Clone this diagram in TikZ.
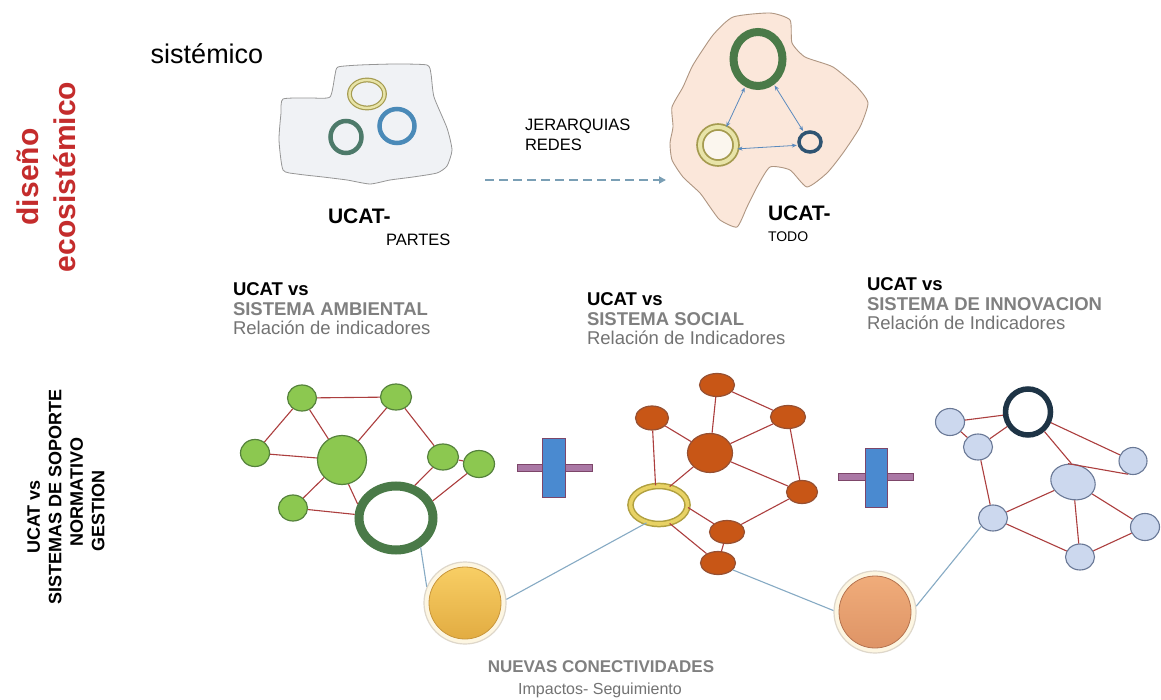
\documentclass[tikz,border=0pt]{standalone}
\usepackage{fontspec}
\setmainfont{Liberation Sans}
\usetikzlibrary{shapes.geometric,arrows.meta}
\definecolor{redc}{RGB}{196,44,44}
\definecolor{hgray}{RGB}{128,128,128}
\definecolor{hgray2}{RGB}{115,115,115}
\definecolor{blobAfill}{RGB}{240,242,245}
\definecolor{blobAdraw}{RGB}{150,150,150}
\definecolor{blobBfill}{RGB}{251,231,218}
\definecolor{blobBdraw}{RGB}{175,150,130}
\definecolor{olivec}{RGB}{165,155,80}
\definecolor{palec}{RGB}{232,228,168}
\definecolor{tealg}{RGB}{77,122,106}
\definecolor{steelb}{RGB}{74,138,184}
\definecolor{darkg}{RGB}{74,122,72}
\definecolor{navyc}{RGB}{47,84,114}
\definecolor{arrowb}{RGB}{90,138,190}
\definecolor{dashc}{RGB}{122,159,181}
\definecolor{gfill}{RGB}{140,200,80}
\definecolor{gdraw}{RGB}{85,130,60}
\definecolor{ofill}{RGB}{200,86,22}
\definecolor{odraw}{RGB}{150,80,50}
\definecolor{bfill}{RGB}{204,216,238}
\definecolor{bdraw}{RGB}{105,120,150}
\definecolor{edgec}{RGB}{172,62,62}
\definecolor{connc}{RGB}{134,170,196}
\definecolor{ringnavy}{RGB}{30,52,70}
\definecolor{ringyel}{RGB}{176,160,64}
\definecolor{ringyelband}{RGB}{232,210,100}
\definecolor{plush}{RGB}{170,120,165}
\definecolor{plusv}{RGB}{74,138,208}
\definecolor{plusd}{RGB}{125,70,105}
\definecolor{halofill}{RGB}{253,246,226}
\definecolor{halodraw}{RGB}{222,215,202}
\definecolor{yinner}{RGB}{251,246,238}
\definecolor{ytop}{RGB}{248,206,100}
\definecolor{ybot}{RGB}{226,172,66}
\definecolor{yrim}{RGB}{200,150,60}
\definecolor{otop}{RGB}{240,172,122}
\definecolor{obot}{RGB}{222,148,102}
\definecolor{orim}{RGB}{180,115,80}
\tikzset{
  txt/.style={inner sep=0pt, outer sep=0pt},
  hdr/.style={txt, align=left, anchor=west, font=\fontsize{18.5}{19.5}\selectfont},
  gnode/.style={ellipse, draw=gdraw, fill=gfill, line width=1.2pt, inner sep=0pt},
  onode/.style={ellipse, draw=odraw, fill=ofill, line width=1.2pt, inner sep=0pt},
  bnode/.style={ellipse, draw=bdraw, fill=bfill, line width=1.1pt, inner sep=0pt},
  netedge/.style={draw=edgec, line width=1.1pt},
  conn/.style={draw=connc, line width=1.1pt},
  ringnode/.style={ellipse, inner sep=0pt},
  tipsm/.style={arrowb, line width=0.8pt, {Stealth[length=5pt,width=4pt]}-{Stealth[length=5pt,width=4pt]}, shorten <=1pt, shorten >=1pt},
  dasharrow/.style={draw=dashc, line width=1.8pt, dash pattern=on 9pt off 5pt, -{Triangle[length=7pt,width=7pt]}},
  halo/.style={circle, minimum size=82pt, inner sep=0pt, fill=halofill, draw=halodraw, line width=1.2pt},
  plusbar/.style={draw=plusd, line width=1pt}
}
\begin{document}
\begin{tikzpicture}[x=1pt,y=-1pt]
\useasboundingbox (0,0) rectangle (1161,700);
\fill[white] (0,0) rectangle (1161,700);

% ---------- titles ----------
\node[txt, rotate=90, align=center, text=redc, font=\bfseries\fontsize{30}{37}\selectfont] (diseno) at (46,177) {diseño\\ecosistémico};
\node[txt, font=\fontsize{27}{30}\selectfont] (sistemico) at (207,54) {sistémico};
\node[txt, rotate=90, align=center, font=\bfseries\fontsize{18}{21.5}\selectfont] (soporte) at (66,500)
  {UCAT vs\hspace*{34pt}\\\hspace*{6pt}SISTEMAS DE SOPORTE\\\hspace*{16pt}NORMATIVO\\GESTION\hspace*{22pt}};

% ---------- blob 1 : partes ----------
\draw[fill=blobAfill, draw=blobAdraw, line width=0.8pt] plot[smooth cycle, tension=0.35] coordinates {
 (283,99) (310,98) (330,97) (335,75) (338,67) (360,65) (395,64) (427,65) (431,74) (434,97)
 (447,128) (452,150) (447,166) (437,173) (413,177) (390,180) (370,184) (347,180) (323,177)
 (297,174) (283,170) (279,140) (281,113)};
\node[ringnode, minimum width=35pt, minimum height=28pt, draw=olivec, double=palec, double distance=2.4pt, line width=1.2pt] (pyel) at (367,94) {};
\node[ringnode, minimum width=31pt, minimum height=32pt, draw=tealg, line width=4.5pt] (pteal) at (346,137) {};
\node[ringnode, minimum width=35pt, minimum height=34pt, draw=steelb, line width=4.5pt] (pblue) at (397,126) {};
\node[txt, anchor=west, font=\bfseries\fontsize{21}{24}\selectfont] (ucatA) at (328,216) {UCAT-};
\node[txt, anchor=west, font=\fontsize{16.5}{19}\selectfont] (partes) at (386,240) {PARTES};

% ---------- middle arrow ----------
\node[txt, anchor=west, align=left, font=\fontsize{16.5}{20}\selectfont] (jer) at (525,135) {JERARQUIAS\\REDES};
\coordinate (dstart) at (485,180);
\coordinate (dend) at (666,180);
\draw[dasharrow] (dstart) -- (dend);

% ---------- blob 2 : todo ----------
\draw[fill=blobBfill, draw=blobBdraw, line width=0.9pt] plot[smooth cycle, tension=0.35] coordinates {
 (693,65) (713,35) (733,17) (770,13) (790,20) (792,43) (805,57) (833,67) (857,87) (868,103)
 (860,127) (843,153) (827,173) (807,187) (790,170) (770,167) (757,187) (747,207) (737,227)
 (720,220) (710,207) (700,193) (683,177) (672,160) (670,143) (673,127) (672,107) (683,87)};
\node[ringnode, minimum width=49pt, minimum height=54pt, draw=darkg, line width=8pt] (tgreen) at (758,59) {};
\node[ringnode, minimum width=36pt, minimum height=36pt, draw=olivec, double=palec, double distance=4pt, line width=1.8pt, fill=yinner] (tyel) at (718,145) {};
\node[ringnode, minimum width=22pt, minimum height=20pt, draw=navyc, line width=3.5pt] (tnavy) at (810,142) {};
\draw[tipsm] (tgreen) -- (tyel);
\draw[tipsm] (tgreen) -- (tnavy);
\draw[tipsm] (tyel.-12) -- (tnavy.195);
\node[txt, anchor=west, font=\bfseries\fontsize{21}{24}\selectfont] (ucatB) at (768,213) {UCAT-};
\node[txt, anchor=west, font=\fontsize{14}{16}\selectfont] (todo) at (768,237) {TODO};

% ---------- headers ----------
\node[hdr] (hA) at (233,309) {\textbf{UCAT vs}\\{\color{hgray}\bfseries SISTEMA AMBIENTAL}\\{\color{hgray2}Relación de indicadores}};
\node[hdr] (hB) at (587,319) {\textbf{UCAT vs}\\{\color{hgray}\bfseries SISTEMA SOCIAL}\\{\color{hgray2}Relación de Indicadores}};
\node[hdr] (hC) at (867,304) {\textbf{UCAT vs}\\{\color{hgray}\bfseries SISTEMA DE INNOVACION}\\{\color{hgray2}Relación de Indicadores}};

% ---------- green network ----------
\node[gnode, minimum width=29pt, minimum height=26pt] (g1) at (302,398) {};
\node[gnode, minimum width=31pt, minimum height=26pt] (g2) at (396,397) {};
\node[gnode, minimum width=29pt, minimum height=27pt] (g3) at (255,453) {};
\node[gnode, minimum width=49pt, minimum height=49pt] (g4) at (342,460) {};
\node[gnode, minimum width=31pt, minimum height=26pt] (g5) at (443,457) {};
\node[gnode, minimum width=31pt, minimum height=27pt] (g6) at (479,464) {};
\node[gnode, minimum width=29pt, minimum height=26pt] (g7) at (293,508) {};
\node[ringnode, minimum width=74pt, minimum height=64pt, draw=darkg, line width=9pt, fill=white] (gring) at (396,518) {};
\draw[netedge] (g1) -- (g2);
\draw[netedge] (g1) -- (g3);
\draw[netedge] (g1) -- (g4);
\draw[netedge] (g2) -- (g4);
\draw[netedge] (g2) -- (g5);
\draw[netedge] (g3) -- (g4);
\draw[netedge] (g5) -- (g6);
\draw[netedge] (g4) -- (g7);
\draw[netedge] (g4.-75) -- (gring.160);
\draw[netedge] (g7) -- (gring.175);
\draw[netedge] (g5) -- (gring.60);
\draw[netedge] (g6) -- (gring.25);

% ---------- plus signs ----------
\draw[plusbar, fill=plush] (517,464) rectangle (592,471);
\draw[plusbar, fill=plusv] (542,438) rectangle (565,497);
\draw[plusbar, fill=plush] (838,473) rectangle (913,480);
\draw[plusbar, fill=plusv] (865,448) rectangle (887,507);

% ---------- orange network ----------
\node[onode, minimum width=35pt, minimum height=23pt] (o1) at (717,385) {};
\node[onode, minimum width=33pt, minimum height=24pt] (o2) at (652,418) {};
\node[onode, minimum width=35pt, minimum height=23pt] (o3) at (788,417) {};
\node[onode, minimum width=45pt, minimum height=39pt] (o4) at (710,453) {};
\node[onode, minimum width=31pt, minimum height=23pt] (o5) at (802,492) {};
\node[onode, minimum width=35pt, minimum height=23pt] (o6) at (727,532) {};
\node[onode, minimum width=35pt, minimum height=23pt] (o7) at (718,563) {};
\node[ringnode, minimum width=57pt, minimum height=38pt, draw=ringyel, double=ringyelband, double distance=3.6pt, line width=1.5pt, fill=white] (yring) at (659,505) {};
\draw[netedge] (o1) -- (o3);
\draw[netedge] (o1) -- (o4);
\draw[netedge] (o2) -- (o4);
\draw[netedge] (o2) -- (yring.100);
\draw[netedge] (o3) -- (o4);
\draw[netedge] (o3) -- (o5);
\draw[netedge] (o4) -- (o5);
\draw[netedge] (o4) -- (yring.60);
\draw[netedge] (yring.-5) -- (o6);
\draw[netedge] (o5) -- (o6);
\draw[netedge] (o6) -- (o7);
\draw[netedge] (yring.-60) -- (o7);

% ---------- blue network ----------
\node[bnode, minimum width=29pt, minimum height=27pt] (b1) at (950,422) {};
\node[ringnode, minimum width=45pt, minimum height=46pt, draw=ringnavy, line width=5.5pt, fill=white] (bring) at (1028,412) {};
\node[bnode, minimum width=29pt, minimum height=26pt] (b2) at (978,447) {};
\node[bnode, minimum width=28pt, minimum height=27pt] (b3) at (1133,461) {};
\node[bnode, minimum width=45pt, minimum height=35pt, rotate=-15] (b4) at (1073,482) {};
\node[bnode, minimum width=29pt, minimum height=26pt] (b5) at (993,518) {};
\node[bnode, minimum width=29pt, minimum height=27pt] (b6) at (1145,527) {};
\node[bnode, minimum width=29pt, minimum height=26pt] (b7) at (1080,557) {};
\draw[netedge] (b1) -- (bring);
\draw[netedge] (b1) -- (b2);
\draw[netedge] (b2) -- (bring);
\draw[netedge] (bring) -- (b3);
\draw[netedge] (bring) -- (b4.110);
\draw[netedge] (b4.120) -- (b3.250);
\draw[netedge] (b2) -- (b5);
\draw[netedge] (b5) -- (b4);
\draw[netedge] (b5) -- (b7);
\draw[netedge] (b4) -- (b7);
\draw[netedge] (b4) -- (b6);
\draw[netedge] (b7) -- (b6);

% ---------- new connectivities ----------
\node[halo] (ycirc) at (465,603) {};
\shade[top color=ytop, bottom color=ybot, draw=yrim, line width=0.8pt] (ycirc.center) circle[radius=36pt];
\node[halo] (ocirc) at (875,612) {};
\shade[top color=otop, bottom color=obot, draw=orim, line width=0.8pt] (ocirc.center) circle[radius=36pt];
\draw[conn] (gring.-50) -- (ycirc.157);
\draw[conn] (ycirc.5) -- (yring.235);
\draw[conn] (o7.-25) -- (ocirc.178);
\draw[conn] (ocirc.8) -- (b5.215);

\node[txt, anchor=north, text=hgray, font=\bfseries\fontsize{17}{20}\selectfont] (nuevas) at (601,661) {NUEVAS CONECTIVIDADES};
\node[txt, anchor=north, text=hgray2, font=\fontsize{16}{19}\selectfont] (impactos) at (600,683) {Impactos- Seguimiento};
\end{tikzpicture}
\end{document}
